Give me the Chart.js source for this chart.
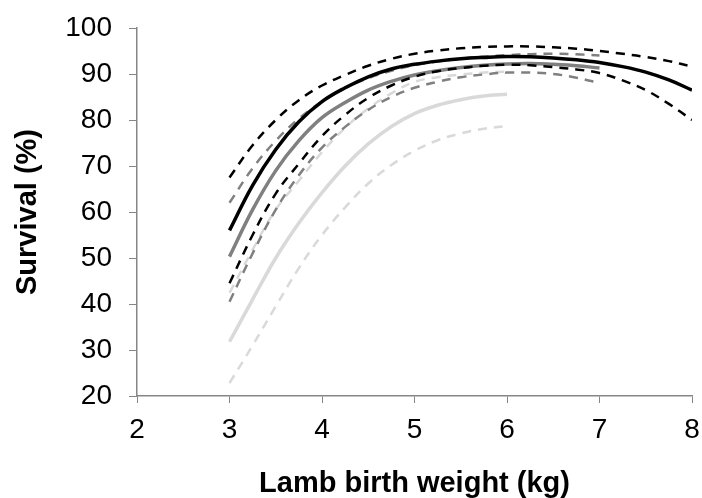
<!DOCTYPE html>
<html>
<head>
<meta charset="utf-8">
<title>Lamb survival by birth weight</title>
<script src="https://cdn.jsdelivr.net/npm/chart.js@4"></script>
<style>
  html, body { margin: 0; padding: 0; background: #fff; }
  #wrap { width: 702px; height: 498px; position: relative; }
</style>
</head>
<body>
<div id="wrap"><canvas id="c_survival"></canvas></div>
<script>
// birth weight (kg) where each curve is sampled, every 0.25 kg
const weights = [3, 3.25, 3.5, 3.75, 4, 4.25, 4.5, 4.75, 5, 5.25, 5.5, 5.75, 6,
                 6.25, 6.5, 6.75, 7, 7.25, 7.5, 7.75, 8];
const xTicks = [2, 3, 4, 5, 6, 7, 8];
const yTicks = [20, 30, 40, 50, 60, 70, 80, 90, 100];

// survival (%) - black group, 3 to 8 kg
const blackMean  = [56, 65.8, 73.6, 79.6, 84, 87, 89.4, 91.1, 92.1, 92.8, 93.3, 93.6, 93.8,
                    93.75, 93.5, 93.1, 92.5, 91.6, 90.4, 88.7, 86.5];
const blackUpper = [67.5, 74.5, 80, 84.3, 87.5, 89.8, 91.8, 93.3, 94.4, 95.1, 95.6, 95.9, 96,
                    96, 95.8, 95.5, 95, 94.4, 93.7, 92.8, 91.6];
const blackLower = [44.5, 55, 64, 70.5, 76.5, 81.1, 84.8, 87.5, 89.4, 90.6, 91.3, 91.8, 92,
                    91.9, 91.5, 91, 90.2, 88.6, 86.5, 83.5, 80];

// grey group, 3 to 7 kg
const greyMean  = [50.3, 60.5, 69, 75.5, 80.5, 83.8, 86.5, 88.4, 89.8, 90.7, 91.4, 91.9, 92.2,
                   92.3, 92.1, 91.8, 91.3];
const greyUpper = [62, 69.5, 75.5, 80.3, 84, 86.9, 89.1, 90.7, 91.9, 92.7, 93.3, 93.8, 94.1,
                   94.3, 94.4, 94.3, 94];
const greyLower = [40.5, 51, 60.5, 68, 74, 78.5, 82.2, 85, 87, 88.3, 89.3, 89.9, 90.3,
                   90.3, 90, 89.2, 88];

// light grey group, 3 to 6 kg
const lightMean  = [31.8, 41, 50, 57.6, 64.2, 70, 74.8, 78.6, 81.4, 83.2, 84.4, 85.2, 85.6];
const lightUpper = [42.4, 51.8, 60.5, 66.8, 73, 78.3, 82.5, 85.8, 88.3, 89.3, 89.9, 90.3, 90.5];
const lightLower = [22.8, 31, 39.5, 47.8, 55, 61, 66.2, 70.2, 73.3, 75.6, 77.1, 78.1, 78.7];

const axisGrey = '#868686';
const fontFamily = '"Liberation Sans", Arial, sans-serif';

function pts(values) {
    return values.map((v, i) => ({ x: weights[i], y: v }));
}

function curve(label, values, color, dashed) {
    return {
        label: label,
        data: pts(values),
        borderColor: color,
        borderWidth: dashed ? 2.5 : 3.5,
        borderDash: dashed ? [9, 7] : [],
        borderCapStyle: 'butt',
        pointRadius: 0,
        fill: false,
        tension: 0.4
    };
}

const c_survival = document.getElementById('c_survival');

var survival_data = {
    type: 'line',
    data: {
        datasets: [
            curve('black', blackMean, '#000000', false),
            curve('black upper', blackUpper, '#000000', true),
            curve('black lower', blackLower, '#000000', true),
            curve('grey upper', greyUpper, '#808080', true),
            curve('grey', greyMean, '#808080', false),
            curve('grey lower', greyLower, '#808080', true),
            curve('light upper', lightUpper, '#d9d9d9', true),
            curve('light', lightMean, '#d9d9d9', false),
            curve('light lower', lightLower, '#d9d9d9', true)
        ]
    },
    options: {
        responsive: true,
        maintainAspectRatio: false,
        animation: false,
        layout: {
            padding: { top: 28, right: 10, bottom: 0, left: 0 }
        },
        plugins: {
            legend: { display: false },
            tooltip: { enabled: false }
        },
        scales: {
            x: {
                type: 'linear',
                min: 2,
                max: 8,
                afterBuildTicks: (scale) => {
                    scale.ticks = xTicks.map(v => ({ value: v }));
                },
                afterFit: (scale) => {
                    scale.height = 102;
                    scale.paddingLeft = 0;
                    scale.paddingRight = 0;
                },
                grid: {
                    drawOnChartArea: false,
                    drawTicks: true,
                    tickLength: 7,
                    color: axisGrey
                },
                border: { color: axisGrey, width: 1.5 },
                ticks: {
                    padding: 10,
                    color: '#000',
                    font: { family: fontFamily, size: 28 }
                },
                title: {
                    display: true,
                    text: 'Lamb birth weight (kg)',
                    color: '#000',
                    padding: { top: 0, bottom: 0 },
                    font: { family: fontFamily, size: 29, weight: 'bold', lineHeight: 1 }
                }
            },
            y: {
                min: 20,
                max: 100,
                afterBuildTicks: (scale) => {
                    scale.ticks = yTicks.map(v => ({ value: v }));
                },
                afterFit: (scale) => {
                    scale.width = 137;
                    scale.paddingTop = 0;
                    scale.paddingBottom = 0;
                },
                grid: {
                    drawOnChartArea: false,
                    drawTicks: true,
                    tickLength: 8,
                    color: axisGrey
                },
                border: { color: axisGrey, width: 1.5 },
                ticks: {
                    padding: 17,
                    color: '#000',
                    font: { family: fontFamily, size: 28 }
                },
                title: {
                    display: true,
                    text: 'Survival (%)',
                    color: '#000',
                    padding: { top: 13, bottom: 0 },
                    font: { family: fontFamily, size: 29, weight: 'bold', lineHeight: 1 }
                }
            }
        }
    }
};

var chart_survival = new Chart(c_survival, survival_data);
</script>
</body>
</html>
